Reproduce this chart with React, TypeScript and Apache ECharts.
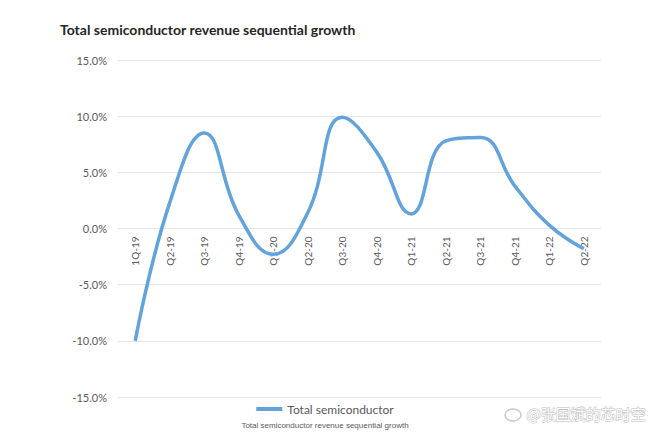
import React, { useEffect, useRef } from "react";
import * as echarts from "echarts";

const categories = ["1Q-19", "Q2-19", "Q3-19", "Q4-19", "Q1-20", "Q2-20", "Q3-20", "Q4-20", "Q1-21", "Q2-21", "Q3-21", "Q4-21", "Q1-22", "Q2-22"];
const growth = [-10.0, 2.3, 8.5, 1.2, -2.3, 1.4, 9.9, 6.8, 1.3, 7.8, 8.1, 3.8, 0.3, -1.8];
const seriesName = "Total semiconductor";
const titleText = "Total semiconductor revenue sequential growth";

export default function App() {
  const ref = useRef<HTMLDivElement>(null);
  useEffect(() => {
    if (!ref.current) return;
    const chart = echarts.init(ref.current, null, { renderer: "svg" });
    const gridTop = 60;
    const gridBottom = 35;
    const plotH = 432 - gridTop - gridBottom;
    const zeroOffset = -plotH / 2;
    chart.setOption({
      animation: false,
      backgroundColor: "#ffffff",
      textStyle: { fontFamily: "Lato, 'Open Sans', sans-serif" },
      title: {
        text: titleText,
        left: 55,
        top: 17,
        textStyle: { fontSize: 14, fontWeight: "bold", color: "#262626", fontFamily: "Lato, sans-serif" },
      },
      legend: {
        bottom: 12,
        left: "center",
        itemWidth: 26,
        itemHeight: 4,
        icon: "rect",
        data: [seriesName],
        textStyle: { fontSize: 12, color: "#595959" },
      },
      grid: { left: 118, right: 49, top: gridTop, bottom: gridBottom },
      xAxis: {
        type: "category",
        data: categories,
        boundaryGap: true,
        offset: zeroOffset,
        axisLine: { show: false, onZero: false },
        axisTick: { show: false },
        axisLabel: { rotate: 90, fontSize: 10, color: "#595959", margin: 8 },
      },
      yAxis: {
        type: "value",
        min: -15,
        max: 15,
        interval: 5,
        axisLine: { show: false },
        axisTick: { show: false },
        axisLabel: { fontSize: 11, color: "#595959", margin: 11, formatter: (v: number) => v.toFixed(1) + "%" },
        splitLine: { lineStyle: { color: "#e6e6e6", width: 1 } },
      },
      series: [
        {
          name: seriesName,
          type: "line",
          data: growth,
          smooth: 0.45,
          showSymbol: false,
          symbol: "none",
          lineStyle: { color: "#62a3dc", width: 3.5 },
          itemStyle: { color: "#62a3dc" },
        },
      ],
      graphic: [
        {
          type: "text",
          left: "center",
          top: 421,
          style: { text: titleText, fontSize: 8, fill: "#595959", fontFamily: "Liberation Sans, sans-serif" },
        },
        {
          type: "ellipse",
          shape: { cx: 513, cy: 415, rx: 8, ry: 6 },
          style: { fill: "none", stroke: "#c8c8c8", lineWidth: 1.5 },
        },
        {
          type: "text",
          left: 526,
          top: 405,
          style: { text: "@张国斌的芯时空", fontSize: 15, fill: "#ffffff", stroke: "#bdbdbd", lineWidth: 1, fontFamily: "'Noto Sans CJK SC', sans-serif" },
        },
      ],
    });
    return () => chart.dispose();
  }, []);
  return <div ref={ref} style={{ position: "fixed", left: 0, top: 0, width: 650, height: 432 }} />;
}
